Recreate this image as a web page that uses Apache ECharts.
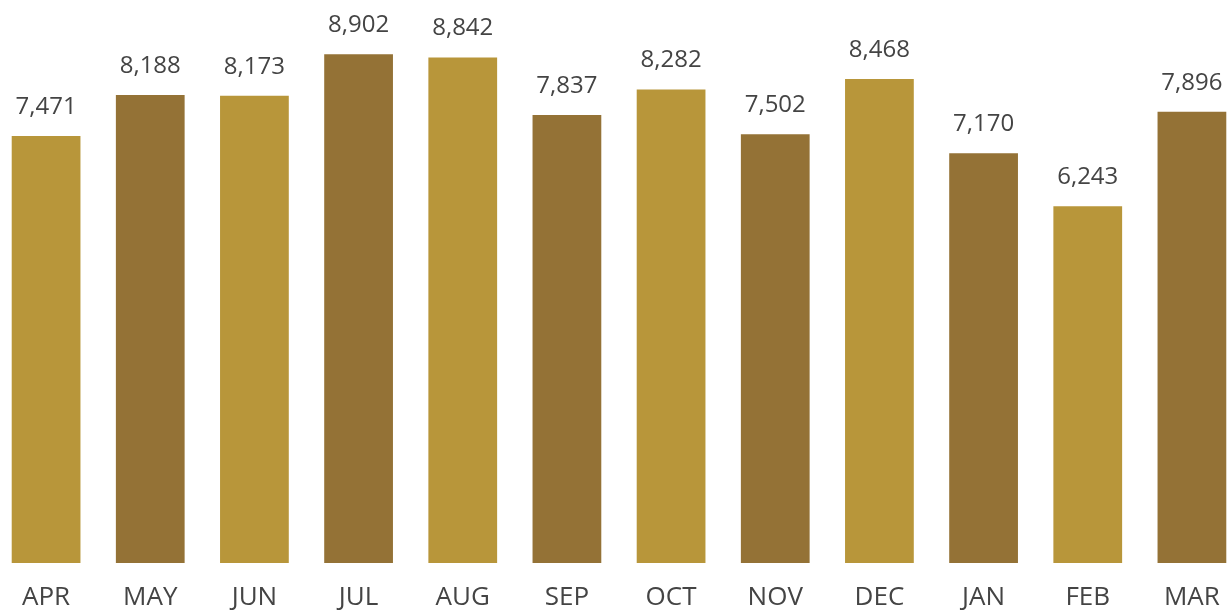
<!DOCTYPE html>
<html><head><meta charset="utf-8">
<script src="https://cdn.jsdelivr.net/npm/echarts@6/dist/echarts.min.js"></script>
<style>html,body{margin:0;padding:0;background:#fff}#c{width:1232px;height:612px}</style>
</head><body><div id="c"></div>
<script>
const categories = ['APR','MAY','JUN','JUL','AUG','SEP','OCT','NOV','DEC','JAN','FEB','MAR'];
const values = [7471, 8188, 8173, 8902, 8842, 7837, 8282, 7502, 8468, 7170, 6243, 7896];
const colors = ['#B8963A', '#947236'];

const chart = echarts.init(document.getElementById('c'));
chart.setOption({
  animation: false,
  grid: { left: -6, right: -12, top: 0, bottom: 49, outerBoundsMode: 'none', containLabel: false },
  xAxis: {
    type: 'category', data: categories,
    axisLine: { show: false }, axisTick: { show: false },
    axisLabel: { color: '#444', fontFamily: 'Open Sans', fontSize: 26, margin: 22 }
  },
  yAxis: { type: 'value', min: 0, max: 9850, show: false, splitLine: { show: false } },
  series: [{
    type: 'bar', barCategoryGap: '34%',
    data: values.map((v, i) => ({ value: v, itemStyle: { color: colors[i % 2] } })),
    label: {
      show: true, position: 'top', distance: 17, color: '#444',
      fontFamily: 'Open Sans', fontSize: 24,
      formatter: p => p.value.toLocaleString('en-US')
    }
  }]
});
</script></body></html>
